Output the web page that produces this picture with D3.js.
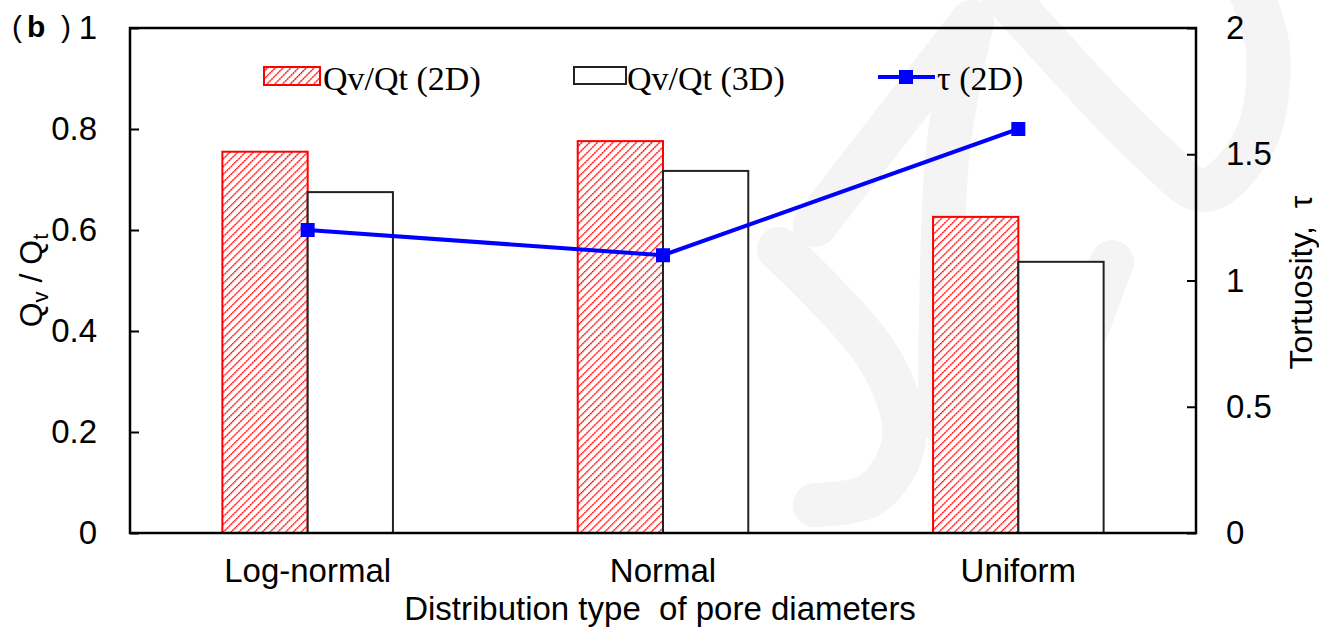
<!DOCTYPE html>
<meta charset="utf-8">
<head>
<style>
  body { margin: 0; background: #fff; }
  .sans { font-family: "Liberation Sans", Arial, sans-serif; }
  .serif { font-family: "Liberation Serif", "Times New Roman", serif; }
</style>
</head>
<body>
<div id="chart"></div>
<script src="https://d3js.org/d3.v7.min.js"></script>
<script>
  // data
  const categories = ["Log-normal", "Normal", "Uniform"];
  const qv2D = [0.755, 0.776, 0.626];   // Qv/Qt (2D), left axis
  const qv3D = [0.675, 0.717, 0.537];   // Qv/Qt (3D), left axis
  const tau2D = [1.2, 1.1, 1.6];        // tortuosity (2D), right axis
  const leftTicks = [0, 0.2, 0.4, 0.6, 0.8, 1];
  const rightTicks = [0, 0.5, 1, 1.5, 2];

  const W = 1319, H = 630;
  const plot = {left: 130, right: 1196, top: 28, bottom: 533};

  const svg = d3.select("#chart").append("svg")
    .attr("width", W).attr("height", H);

  // hatch pattern for the 2D bars
  const defs = svg.append("defs");
  defs.append("pattern")
      .attr("id", "hatch")
      .attr("patternUnits", "userSpaceOnUse")
      .attr("width", 5.5).attr("height", 5.5)
      .attr("patternTransform", "rotate(45)")
    .call(p => {
      p.append("rect").attr("width", 5.5).attr("height", 5.5).attr("fill", "#fff");
      p.append("line").attr("x1", 0).attr("y1", 0).attr("x2", 0).attr("y2", 5.5)
        .attr("stroke", "#ff0000").attr("stroke-width", 2.6)
        .attr("stroke-dasharray", "2.2,0.55");
    });

  // faint watermark in the background
  const wm = svg.append("g")
    .attr("fill", "none").attr("stroke", "#f4f4f4")
    .attr("stroke-width", 44).attr("stroke-linecap", "round")
    .attr("stroke-linejoin", "round");
  const line = d3.line().curve(d3.curveCatmullRom);
  [
    [[815, 225], [972, 22]],
    [[972, 22], [948, 150], [940, 420]],
    [[779, 249], [880, 360], [904, 440], [872, 494], [815, 505]],
    [[1112, 262], [1045, 440]],
    [[1000, -10], [1150, 150], [1205, 190], [1255, 140], [1268, 50], [1250, -10]]
  ].forEach(pts => wm.append("path").attr("d", line(pts)));

  // scales
  const x = d3.scaleBand().domain(categories).range([plot.left, plot.right]);
  const y = d3.scaleLinear().domain([0, 1]).range([plot.bottom, plot.top]);
  const yR = d3.scaleLinear().domain([0, 2]).range([plot.bottom, plot.top]);
  const barW = x.bandwidth() * 0.24;
  const cx = c => x(c) + x.bandwidth() / 2;

  // bars
  svg.append("g").selectAll("rect")
    .data(categories.map((c, i) => ({c, v: qv2D[i]})))
    .join("rect")
      .attr("x", d => cx(d.c) - barW)
      .attr("y", d => y(d.v))
      .attr("width", barW)
      .attr("height", d => y(0) - y(d.v))
      .attr("fill", "url(#hatch)")
      .attr("stroke", "#ff0000").attr("stroke-width", 2);

  svg.append("g").selectAll("rect")
    .data(categories.map((c, i) => ({c, v: qv3D[i]})))
    .join("rect")
      .attr("x", d => cx(d.c))
      .attr("y", d => y(d.v))
      .attr("width", barW)
      .attr("height", d => y(0) - y(d.v))
      .attr("fill", "#fff")
      .attr("stroke", "#222").attr("stroke-width", 2);

  // axes
  const leftAxis = svg.append("g")
    .attr("transform", `translate(${plot.left},0)`)
    .call(d3.axisLeft(y).tickValues(leftTicks).tickSize(-9).tickPadding(33)
      .tickFormat(d3.format("~g")));
  const rightAxis = svg.append("g")
    .attr("transform", `translate(${plot.right},0)`)
    .call(d3.axisRight(yR).tickValues(rightTicks).tickSize(-9).tickPadding(30)
      .tickFormat(d3.format("~g")));
  const bottomAxis = svg.append("g")
    .attr("transform", `translate(0,${plot.bottom})`)
    .call(d3.axisBottom(x).tickSize(0).tickPadding(26));

  [leftAxis, rightAxis, bottomAxis].forEach(a => {
    a.select(".domain").remove();
    a.attr("font-family", "Liberation Sans, Arial, sans-serif").attr("font-size", 33);
    a.selectAll("line").attr("stroke", "#000").attr("stroke-width", 2);
    a.selectAll("text").attr("fill", "#000");
  });

  // frame
  svg.append("rect")
    .attr("x", plot.left).attr("y", plot.top)
    .attr("width", plot.right - plot.left).attr("height", plot.bottom - plot.top)
    .attr("fill", "none").attr("stroke", "#000").attr("stroke-width", 2.5);

  // tortuosity line
  const pts = categories.map((c, i) => [cx(c), yR(tau2D[i])]);
  svg.append("path")
    .attr("d", d3.line()(pts))
    .attr("fill", "none").attr("stroke", "#0000ff").attr("stroke-width", 4);
  svg.append("g").selectAll("rect")
    .data(pts)
    .join("rect")
      .attr("x", d => d[0] - 7).attr("y", d => d[1] - 7)
      .attr("width", 14).attr("height", 14)
      .attr("fill", "#0000ff");

  // axis titles
  svg.append("text").attr("class", "sans")
    .attr("x", 660).attr("y", 620)
    .attr("text-anchor", "middle").attr("font-size", 33)
    .attr("xml:space", "preserve")
    .text("Distribution type  of pore diameters");

  const lt = svg.append("text").attr("class", "sans")
    .attr("transform", `translate(42,${(plot.top + plot.bottom) / 2}) rotate(-90)`)
    .attr("text-anchor", "middle").attr("font-size", 32);
  lt.append("tspan").text("Q");
  lt.append("tspan").attr("font-size", 22).attr("dy", 6).text("v");
  lt.append("tspan").attr("dy", -6).text(" / Q");
  lt.append("tspan").attr("font-size", 22).attr("dy", 6).text("t");

  svg.append("text").attr("class", "sans")
    .attr("transform", `translate(1312,${(plot.top + plot.bottom) / 2 + 2}) rotate(-90)`)
    .attr("text-anchor", "middle").attr("font-size", 32)
    .attr("xml:space", "preserve")
    .text("Tortuosity,  \u03c4");

  // panel label
  const pl = svg.append("text").attr("y", 37).attr("font-size", 30)
    .attr("class", "sans");
  pl.append("tspan").attr("x", 12).text("(");
  pl.append("tspan").attr("x", 27).attr("font-weight", "bold").text("b");
  pl.append("tspan").attr("x", 61).text(")");

  // legend
  const lg = svg.append("g").attr("class", "serif").attr("font-size", 34);
  lg.append("rect").attr("x", 264).attr("y", 67).attr("width", 56).attr("height", 18)
    .attr("fill", "url(#hatch)").attr("stroke", "#ff0000").attr("stroke-width", 2);
  lg.append("text").attr("x", 323).attr("y", 90).text("Qv/Qt (2D)");
  lg.append("rect").attr("x", 574).attr("y", 67).attr("width", 52).attr("height", 17)
    .attr("fill", "#fff").attr("stroke", "#222").attr("stroke-width", 2);
  lg.append("text").attr("x", 627).attr("y", 90).text("Qv/Qt (3D)");
  lg.append("line").attr("x1", 878).attr("x2", 935).attr("y1", 77).attr("y2", 77)
    .attr("stroke", "#0000ff").attr("stroke-width", 4);
  lg.append("rect").attr("x", 899).attr("y", 70).attr("width", 14).attr("height", 14)
    .attr("fill", "#0000ff");
  lg.append("text").attr("x", 937).attr("y", 90).text("\u03c4 (2D)");
</script>
</body>
